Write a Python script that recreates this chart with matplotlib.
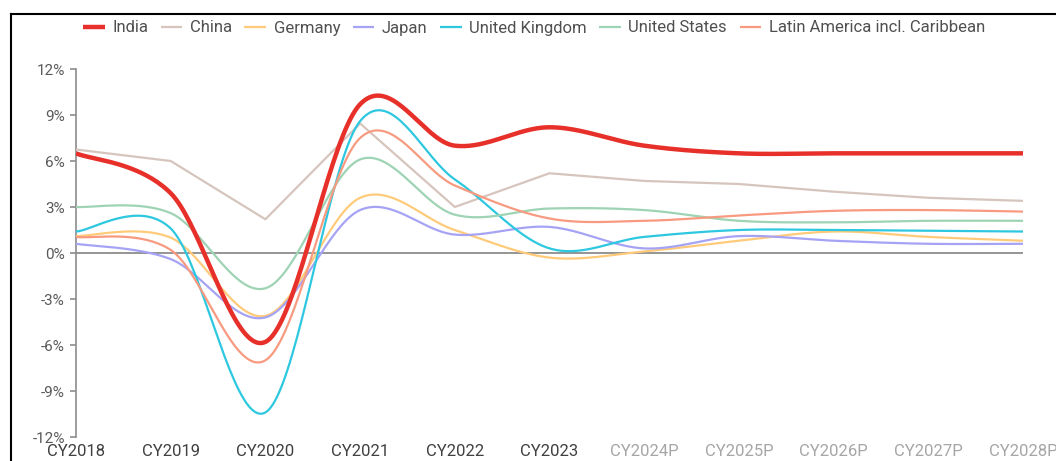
import numpy as np
import matplotlib
matplotlib.use("Agg")
import matplotlib.pyplot as plt
from matplotlib.lines import Line2D

plt.rcParams['font.family'] = ['Roboto', 'DejaVu Sans']

years = ["CY2018", "CY2019", "CY2020", "CY2021", "CY2022", "CY2023",
         "CY2024P", "CY2025P", "CY2026P", "CY2027P", "CY2028P"]

india   = [6.5, 3.9, -5.8, 9.7, 7.0, 8.2, 7.0, 6.5, 6.5, 6.5, 6.5]
china   = [6.75, 6.0, 2.2, 8.45, 3.0, 5.2, 4.7, 4.5, 4.0, 3.6, 3.4]
germany = [1.1, 1.0, -4.1, 3.6, 1.5, -0.3, 0.1, 0.8, 1.4, 1.05, 0.8]
japan   = [0.6, -0.4, -4.2, 2.8, 1.2, 1.7, 0.3, 1.1, 0.8, 0.6, 0.6]
uk      = [1.4, 1.6, -10.4, 8.6, 4.8, 0.3, 1.05, 1.5, 1.5, 1.45, 1.4]
us      = [3.0, 2.6, -2.3, 6.1, 2.5, 2.9, 2.8, 2.1, 2.0, 2.1, 2.1]
latam   = [1.05, 0.2, -7.0, 7.5, 4.4, 2.25, 2.1, 2.45, 2.75, 2.8, 2.7]

series_names = ["India", "China", "Germany", "Japan", "United Kingdom",
                "United States", "Latin America incl. Caribbean"]
series_vals = [india, china, germany, japan, uk, us, latam]
colors = ["#E8302A", "#D6C5BD", "#FFCB7A", "#A6A3F5", "#2DC8E0", "#9ED3B4", "#F79A80"]
widths = [3.2, 1.6, 1.6, 1.6, 1.6, 1.6, 1.6]
smooth_flags = [True, False, True, True, True, True, True]


def smooth(xs, ys, n=40):
    xs = np.asarray(xs, float)
    ys = np.asarray(ys, float)
    P = np.column_stack([xs, ys])
    Pe = np.vstack([P[0], P, P[-1]])
    out = []
    t = np.linspace(0, 1, n)[:, None]
    for i in range(len(P) - 1):
        p0, p1, p2, p3 = Pe[i], Pe[i + 1], Pe[i + 2], Pe[i + 3]
        c1 = p1 + (p2 - p0) / 6.0
        c2 = p2 - (p3 - p1) / 6.0
        seg = ((1 - t) ** 3) * p1 + 3 * ((1 - t) ** 2) * t * c1 + 3 * (1 - t) * t ** 2 * c2 + t ** 3 * p2
        out.append(seg if i == 0 else seg[1:])
    arr = np.vstack(out)
    return arr[:, 0], arr[:, 1]


fig = plt.figure(figsize=(10.56, 4.61), dpi=100)
ax = fig.add_axes([76 / 1056, 1 - 437 / 461, (1023 - 76) / 1056, (437 - 69) / 461])

x = np.arange(len(years))
order = [1, 2, 3, 4, 5, 6, 0]
handles = {}
for i in order:
    if smooth_flags[i]:
        sx, sy = smooth(x, series_vals[i])
    else:
        sx, sy = x, np.asarray(series_vals[i])
    ln, = ax.plot(sx, sy, color=colors[i], lw=widths[i], solid_capstyle='butt',
                  label=series_names[i], zorder=3 + (1 if i == 0 else 0))
    handles[i] = ln

ax.axhline(0, color="#8C8C8C", lw=1.3, zorder=2)
ax.set_xlim(0, len(years) - 1)
ax.set_ylim(-12, 12)
ax.set_yticks(np.arange(-12, 13, 3))
ax.set_yticklabels([f"{v}%" for v in range(-12, 13, 3)])
ax.set_xticks(x)
ax.set_xticklabels(years)

for s in ["top", "right", "bottom"]:
    ax.spines[s].set_visible(False)
ax.spines["left"].set_color("#8C8C8C")
ax.spines["left"].set_linewidth(1.2)
ax.tick_params(axis='y', direction='out', length=4, width=1.2, color="#8C8C8C",
               labelsize=11, labelcolor="#595959", pad=4)
ax.tick_params(axis='x', length=0, labelsize=12, pad=5)
for j, lab in enumerate(ax.get_xticklabels()):
    lab.set_color("#404040" if j < 6 else "#A6A6A6")

leg = fig.legend([handles[i] for i in range(7)], series_names, loc='center',
                 bbox_to_anchor=(534 / 1056, 1 - 28 / 461), ncol=7, frameon=False,
                 fontsize=12, handlelength=1.3, handletextpad=0.45, columnspacing=0.75,
                 labelcolor="#505050", borderaxespad=0, borderpad=0)

# figure border (top and left)
fig.add_artist(Line2D([10.5 / 1056, 1.0], [1 - 14 / 461, 1 - 14 / 461], transform=fig.transFigure,
                      color="black", lw=1.5))
fig.add_artist(Line2D([10.5 / 1056, 10.5 / 1056], [0, 1 - 14 / 461], transform=fig.transFigure,
                      color="black", lw=1.5))

fig.savefig("out.png", dpi=100)
